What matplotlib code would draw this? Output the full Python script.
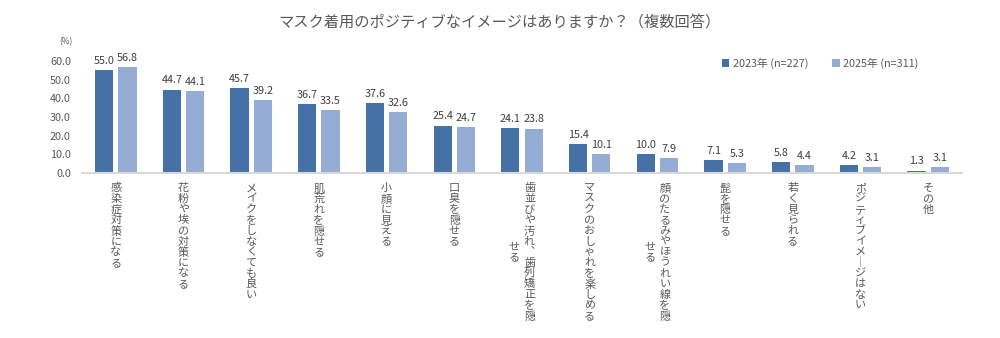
import matplotlib
matplotlib.use("Agg")
import matplotlib.pyplot as plt
import matplotlib.transforms as mtransforms
import numpy as np

plt.rcParams["font.family"] = ["Noto Sans CJK JP", "DejaVu Sans"]

title = "マスク着用のポジティブなイメージはありますか？（複数回答）"
series_names = ["2023年 (n=227)", "2025年 (n=311)"]
# each label split into the columns it wraps into (vertical text)
categories = [
    ["感染症対策になる"],
    ["花粉や埃の対策になる"],
    ["メイクをしなくても良い"],
    ["肌荒れを隠せる"],
    ["小顔に見える"],
    ["口臭を隠せる"],
    ["歯並びや汚れ、歯列矯正を隠", "せる"],
    ["マスクのおしゃれを楽しめる"],
    ["顔のたるみやほうれい線を隠", "せる"],
    ["髭を隠せる"],
    ["若く見られる"],
    ["ポジティブイメージはない"],
    ["その他"],
]
values_2023 = [55.0, 44.7, 45.7, 36.7, 37.6, 25.4, 24.1, 15.4, 10.0, 7.1, 5.8, 4.2, 1.3]
values_2025 = [56.8, 44.1, 39.2, 33.5, 32.6, 24.7, 23.8, 10.1, 7.9, 5.3, 4.4, 3.1, 3.1]
yticks = [0, 10, 20, 30, 40, 50, 60]

dark = "#4571a7"
light = "#95acd4"
text_gray = "#595959"

# vertical forms for a few characters
vert_map = {"ー": "︱", "、": "︑"}

fig = plt.figure(figsize=(10, 3.38), dpi=100)
ax = fig.add_axes([0.082, 1 - 173 / 338, 0.88, (173 - 61) / 338])

x = np.arange(len(categories))
w = 0.27
off = 0.172
b1 = ax.bar(x - off, values_2023, w, color=dark, label=series_names[0], zorder=2)
b2 = ax.bar(x + off, values_2025, w, color=light, label=series_names[1], zorder=2)

for bars, vals in ((b1, values_2023), (b2, values_2025)):
    for rect, v in zip(bars, vals):
        ax.annotate(f"{v:.1f}", (rect.get_x() + rect.get_width() / 2, v),
                    xytext=(0, 3), textcoords="offset points", ha="center", va="bottom",
                    fontsize=7.8, color="#404040", annotation_clip=False)

ax.set_xlim(-0.5, len(categories) - 0.5)
ax.set_ylim(0, 60)
ax.set_yticks(yticks)
ax.set_yticklabels([f"{t:.1f}" for t in yticks], fontsize=7.8, color=text_gray)
ax.set_xticks([])
ax.tick_params(axis="y", length=0, pad=8)
for s in ("top", "right", "left"):
    ax.spines[s].set_visible(False)
ax.spines["bottom"].set_color("#d9d9d9")
ax.spines["bottom"].set_linewidth(1.5)

# vertical category labels, one character at a time
trans = mtransforms.blended_transform_factory(ax.transData, ax.transAxes)
step = 7.65
col_gap = 10.8
for i, cols in enumerate(categories):
    maxlen = max(len(c) for c in cols)
    ncols = len(cols)
    for j, col in enumerate(cols):
        dx = ((ncols - 1) / 2 - j) * col_gap
        start = (maxlen - len(col)) / 2
        for k, ch in enumerate(col):
            ax.annotate(vert_map.get(ch, ch), (i, 0), xycoords=trans,
                        xytext=(dx, -7.5 - (start + k) * step), textcoords="offset points",
                        ha="center", va="top", fontsize=8, color=text_gray,
                        annotation_clip=False)

fig.text(0.5, 1 - 22 / 338, title, ha="center", va="center", fontsize=11, color=text_gray)
fig.text(0.066, 1 - 42 / 338, "(%)", ha="center", va="center", fontsize=6, color=text_gray)

fig.legend(handles=[b1, b2], labels=series_names, loc="center",
           bbox_to_anchor=(0.82, 1 - 63 / 338), ncol=2, frameon=False,
           fontsize=7.8, handlelength=0.7, handleheight=0.7, handletextpad=0.3,
           columnspacing=2.2, labelcolor=text_gray)

fig.savefig("out.png", dpi=100, facecolor="white")
